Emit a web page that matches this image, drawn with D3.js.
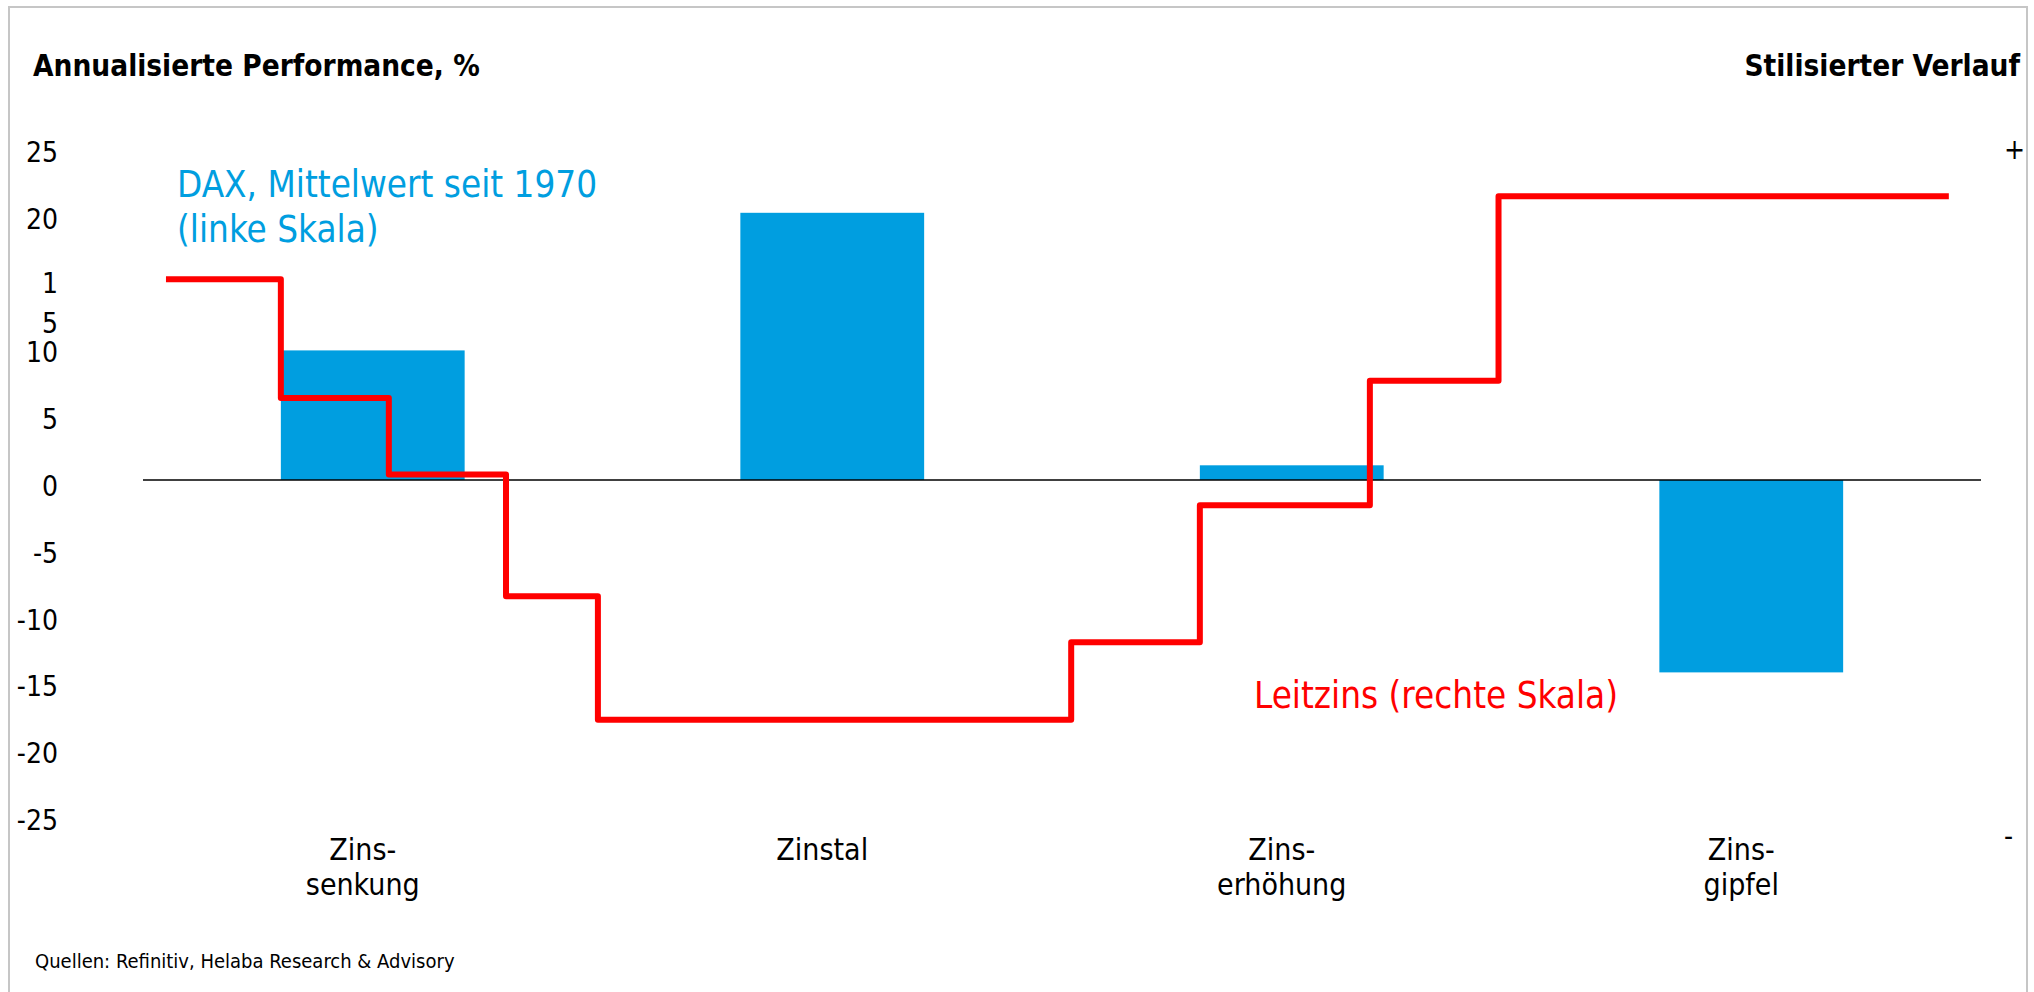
<!DOCTYPE html>
<html>
<head>
<meta charset="utf-8">
<script src="https://cdn.jsdelivr.net/npm/d3@7"></script>
<style>
  body { margin: 0; background: #fff; }
  text { font-family: "Liberation Sans Narrow", "DejaVu Sans Condensed", "Roboto", sans-serif; }
</style>
</head>
<body>
<div id="chart"></div>
<script>
var width = 2034, height = 992;

// data
var categories = ["Zins-|senkung", "Zinstal", "Zins-|erhöhung", "Zins-|gipfel"];
var daxPerf = [9.7, 20.0, 1.1, -14.4];
var leftTicks = [25, 20, 15, 10, 5, 0, -5, -10, -15, -20, -25];
var rightTicks = [100, -100];
var rightTickLabels = ["+", "-"];
// stylised policy rate: step positions (in category units) and levels (right scale)
var rateX = [0.05, 0.30, 0.535, 0.79, 0.99, 2.02, 2.30, 2.67, 2.95, 3.93];
var rateLevel = [62.4, 27.8, 5.5, -29.9, -65.9, -43.3, -3.4, 32.8, 86.5];

var blue = "#009ee0", red = "#ff0000";

var svg = d3.select("#chart").append("svg")
  .attr("width", width)
  .attr("height", height);

// frame
svg.append("rect")
  .attr("x", 9).attr("y", 7)
  .attr("width", 2018).attr("height", 1000)
  .attr("fill", "none")
  .attr("stroke", "#c6c6c6")
  .attr("stroke-width", 2);

var plot = {left: 143, right: 1981};

var x = d3.scaleBand()
  .domain(categories)
  .range([plot.left, plot.right])
  .paddingInner(0.6)
  .paddingOuter(0.3);

var xPhase = d3.scaleLinear().domain([0, 4]).range([plot.left, plot.right]);

var y = d3.scaleLinear().domain([-25, 25]).range([814, 146]);
var yR = d3.scaleLinear().domain([-100, 100]).range([837, 150]);

// titles
svg.append("text")
  .text("Annualisierte Performance, %")
  .attr("x", 33).attr("y", 76)
  .attr("font-size", 29.5).attr("font-weight", "bold");

svg.append("text")
  .text("Stilisierter Verlauf")
  .attr("x", 2020).attr("y", 76)
  .attr("text-anchor", "end")
  .attr("font-size", 29.5).attr("font-weight", "bold");

// bars
svg.selectAll("rect.bar")
  .data(daxPerf)
  .enter()
  .append("rect")
  .attr("class", "bar")
  .attr("x", function(d, i) { return x(categories[i]); })
  .attr("width", x.bandwidth())
  .attr("y", function(d) { return y(Math.max(0, d)); })
  .attr("height", function(d) { return Math.abs(y(d) - y(0)); })
  .attr("fill", blue);

// zero line
svg.append("line")
  .attr("x1", plot.left).attr("x2", plot.right)
  .attr("y1", y(0)).attr("y2", y(0))
  .attr("stroke", "#000")
  .attr("stroke-width", 1.5);

// left axis
var leftAxis = svg.append("g")
  .attr("transform", "translate(62,0)")
  .call(d3.axisLeft(y).tickValues(leftTicks).tickSize(0).tickPadding(4)
    .tickFormat(function(d) { return String(d); }));
leftAxis.select(".domain").remove();
leftAxis.selectAll("text")
  .attr("font-size", 28)
  .attr("font-family", null)
  .attr("fill", "#000")
  .attr("dy", "0.55em");
// the 15 label is wrapped in the original
leftAxis.selectAll(".tick").filter(function(d) { return d === 15; })
  .select("text")
  .text(null)
  .attr("dy", null)
  .call(function(t) {
    t.append("tspan").attr("x", -4).attr("dy", "0.45em").text("1");
    t.append("tspan").attr("x", -4).attr("dy", "1.45em").text("5");
  });

// right axis
var rightAxis = svg.append("g")
  .attr("transform", "translate(2000,0)")
  .call(d3.axisRight(yR).tickValues(rightTicks).tickSize(0).tickPadding(4)
    .tickFormat(function(d, i) { return rightTickLabels[i]; }));
rightAxis.select(".domain").remove();
rightAxis.selectAll("text")
  .attr("font-size", 28)
  .attr("font-family", null)
  .attr("fill", "#000");

// category labels (sit a little left of the bar centres in the original)
svg.selectAll("text.cat")
  .data(categories)
  .enter()
  .append("text")
  .attr("class", "cat")
  .attr("text-anchor", "middle")
  .attr("font-size", 30)
  .attr("y", 860)
  .each(function(d) {
    var lines = d.split("|");
    var t = d3.select(this);
    lines.forEach(function(l, j) {
      t.append("tspan")
        .attr("x", x(d) + x.bandwidth() / 2 - 10)
        .attr("dy", j === 0 ? 0 : 35)
        .text(l);
    });
  });

// policy rate step line
var ratePts = rateLevel.map(function(v, i) { return [rateX[i], v]; });
ratePts.push([rateX[rateX.length - 1], rateLevel[rateLevel.length - 1]]);

var stepLine = d3.line()
  .x(function(d) { return xPhase(d[0]); })
  .y(function(d) { return yR(d[1]); })
  .curve(d3.curveStepAfter);

svg.append("path")
  .datum(ratePts)
  .attr("d", stepLine)
  .attr("fill", "none")
  .attr("stroke", red)
  .attr("stroke-width", 6)
  .attr("stroke-linejoin", "round");

// series labels
var daxLabel = svg.append("text")
  .attr("x", 177).attr("y", 197)
  .attr("font-size", 36.5)
  .attr("fill", blue);
daxLabel.append("tspan").attr("x", 177).text("DAX, Mittelwert seit 1970");
daxLabel.append("tspan").attr("x", 177).attr("dy", 45).text("(linke Skala)");

svg.append("text")
  .text("Leitzins (rechte Skala)")
  .attr("x", 1254).attr("y", 708)
  .attr("font-size", 36.5)
  .attr("fill", red);

// source
svg.append("text")
  .text("Quellen: Refinitiv, Helaba Research & Advisory")
  .attr("x", 35).attr("y", 968)
  .attr("font-size", 20);
</script>
</body>
</html>
